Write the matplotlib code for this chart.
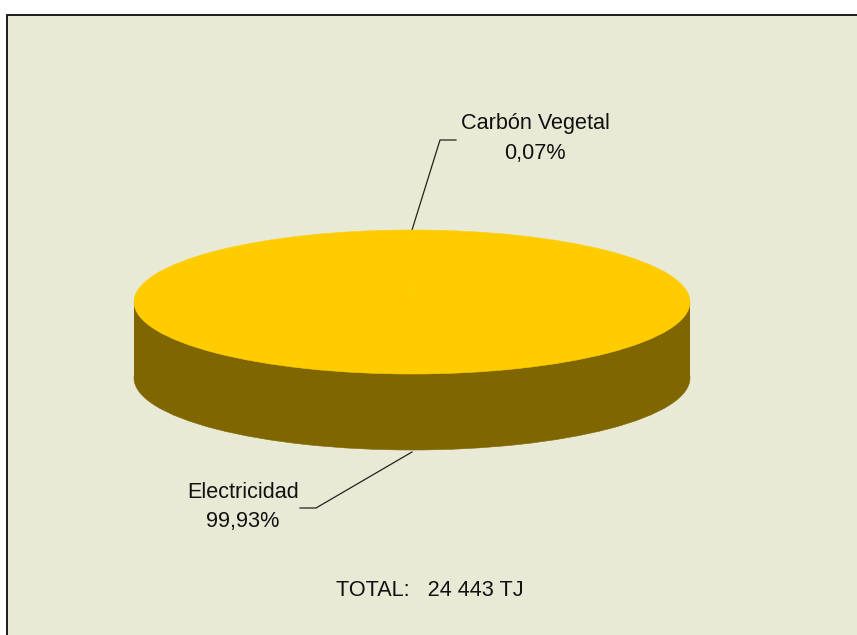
import matplotlib
matplotlib.use("Agg")
import matplotlib.pyplot as plt
from matplotlib.patches import Rectangle

# Energy shares, percent
fuentes = ["Electricidad", "Carbón Vegetal"]
porcentajes = [99.93, 0.07]
etiquetas = ["99,93%", "0,07%"]
total_texto = "TOTAL:   24 443 TJ"

COLOR_FONDO = "#E9EAD6"
COLOR_TAPA = "#FFCC00"
COLOR_LADO = "#806600"

W, H = 857, 635
plt.rcParams["font.family"] = ["Liberation Sans", "DejaVu Sans"]

fig = plt.figure(figsize=(W / 100, H / 100), dpi=100, facecolor="white")

# background axes works in pixels, y pointing down
bg = fig.add_axes([0, 0, 1, 1])
bg.set_xlim(0, W)
bg.set_ylim(H, 0)
bg.axis("off")
bg.add_patch(Rectangle((7.5, 14.5), W, H, facecolor=COLOR_FONDO, edgecolor="#1c1c1c", lw=1.4))


def pie_axes(left, top, width, height, color):
    # the axes box squashes the round pie into an ellipse
    ax = fig.add_axes([left / W, 1 - (top + height) / H, width / W, height / H])
    ax.patch.set_alpha(0)
    ax.pie(porcentajes, colors=[color, color], startangle=90 - porcentajes[0] * 3.6, radius=1,
           wedgeprops={"edgecolor": color, "linewidth": 0.4})
    ax.set_aspect("auto")
    ax.set_xlim(-1, 1)
    ax.set_ylim(-1, 1)
    return ax


# side of the disc: lower pie, a band, then the top pie
pie_axes(134, 306, 556, 144, COLOR_LADO)
bg.add_patch(Rectangle((133.7, 302), 556.6, 76, facecolor=COLOR_LADO, edgecolor="none"))
pie_axes(134, 230, 556, 144, COLOR_TAPA)

# leader lines
bg.plot([412, 440, 456], [230, 140, 140], color="#222222", lw=0.9, solid_joinstyle="miter")
bg.plot([412, 316, 300], [452, 508, 508], color="#222222", lw=0.9, solid_joinstyle="miter")

fs = 15.6
bg.text(535.5, 123, fuentes[1], fontsize=fs, ha="center", va="center", color="#111111")
bg.text(535, 153, etiquetas[1], fontsize=fs, ha="center", va="center", color="#111111")
bg.text(243, 492, fuentes[0], fontsize=fs, ha="center", va="center", color="#111111")
bg.text(243, 522, etiquetas[0], fontsize=fs, ha="center", va="center", color="#111111")
bg.text(430, 590, total_texto, fontsize=fs, ha="center", va="center", color="#111111")

fig.savefig("out.png", dpi=100, facecolor="white")
